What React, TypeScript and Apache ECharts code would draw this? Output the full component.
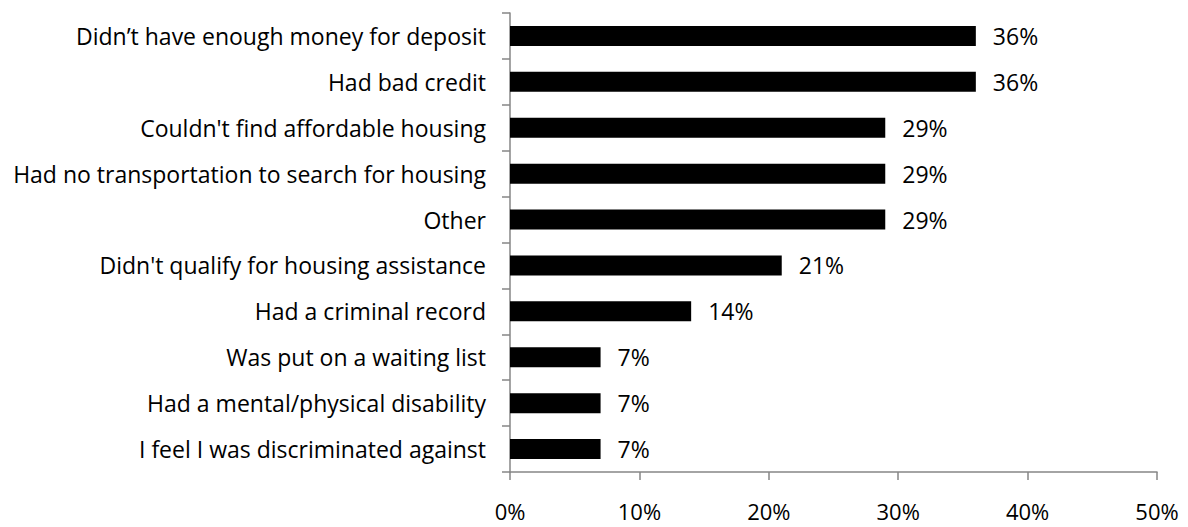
import React, { useEffect, useRef } from "react";
import * as echarts from "echarts";

const categories = [
  "Didn’t have enough money for deposit",
  "Had bad credit",
  "Couldn't find affordable housing",
  "Had no transportation to search for housing",
  "Other",
  "Didn't qualify for housing assistance",
  "Had a criminal record",
  "Was put on a waiting list",
  "Had a mental/physical disability",
  "I feel I was discriminated against",
];
const values = [36, 36, 29, 29, 29, 21, 14, 7, 7, 7];
const xMin = 0;
const xMax = 50;
const xInterval = 10;

const FONT = "Open Sans";
const FS = 23;

export default function App() {
  const ref = useRef<HTMLDivElement>(null);
  useEffect(() => {
    const chart = echarts.init(ref.current!, null, { renderer: "svg" });
    chart.setOption({
      animation: false,
      grid: { left: 510, right: 31, top: 13, bottom: 55, containLabel: false },
      xAxis: {
        type: "value",
        min: xMin,
        max: xMax,
        interval: xInterval,
        axisLine: { show: true, lineStyle: { color: "#868686", width: 1.5 } },
        axisTick: { show: true, length: 8, lineStyle: { color: "#868686", width: 1.5 } },
        splitLine: { show: false },
        axisLabel: {
          formatter: "{value}%",
          color: "#000",
          fontFamily: FONT,
          fontSize: 22,
          lineHeight: 20,
          margin: 29,
        },
      },
      yAxis: {
        type: "category",
        inverse: true,
        data: categories,
        axisLine: { show: true, lineStyle: { color: "#868686", width: 1.5 } },
        axisTick: { show: true, length: 8, lineStyle: { color: "#868686", width: 1.5 } },
        axisLabel: {
          color: "#000",
          fontFamily: FONT,
          fontSize: FS,
          margin: 24,
        },
      },
      series: [
        {
          type: "bar",
          data: values,
          barWidth: 20,
          itemStyle: { color: "#000" },
          label: {
            show: true,
            position: "right",
            distance: 17,
            formatter: "{c}%",
            color: "#000",
            fontFamily: FONT,
            fontSize: FS,
          },
        },
      ],
    });
    return () => chart.dispose();
  }, []);
  return (
    <div
      ref={ref}
      style={{ position: "fixed", left: 0, top: 0, width: 1188, height: 527, background: "#fff" }}
    />
  );
}
